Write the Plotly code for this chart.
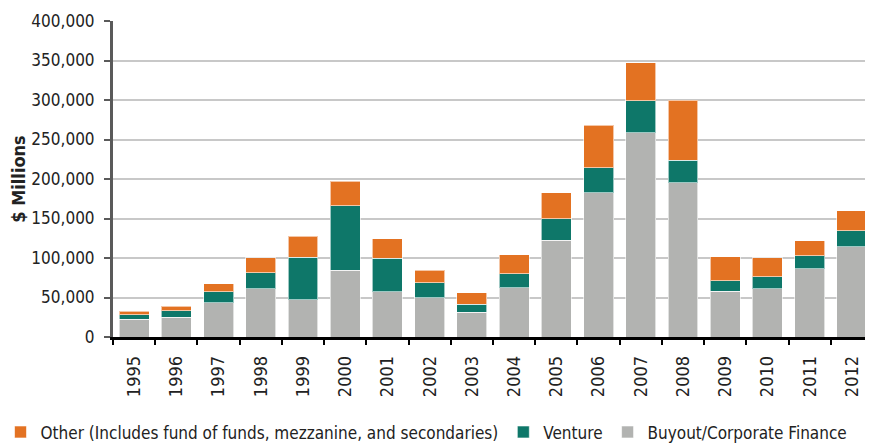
import plotly.graph_objects as go

years = [str(y) for y in range(1995, 2013)]
buyout = [22400, 25300, 43100, 60800, 47300, 84500, 57400, 49400, 31300,
          62100, 122500, 182900, 258500, 195200, 57900, 60800, 86600, 114100]
venture = [5900, 7700, 13900, 20700, 53700, 81500, 42300, 19000, 10100,
           17700, 27500, 31300, 40600, 28300, 13100, 15200, 16000, 20200]
other = [4200, 5900, 10200, 19000, 26600, 31300, 24500, 16100, 14800,
         24100, 32900, 53600, 48100, 76000, 30800, 24100, 19500, 25300]

series_names = ["Buyout/Corporate Finance", "Venture",
                "Other (Includes fund of funds, mezzanine, and secondaries)"]
series_colors = ["#B2B3B1", "#0E7769", "#E37222"]

FONT = "Liberation Sans Narrow, Arial Narrow, DejaVu Sans Condensed, sans-serif"

fig = go.Figure()
for name, vals, col in zip(series_names, [buyout, venture, other], series_colors):
    fig.add_trace(go.Bar(x=years, y=vals, name=name,
                         marker=dict(color=col, line=dict(color="rgba(255,255,255,0.6)", width=1))))

fig.update_layout(
    barmode="stack",
    bargap=0.29,
    width=865, height=437,
    margin=dict(l=105, r=0, t=13, b=108, autoexpand=False),
    paper_bgcolor="white", plot_bgcolor="white",
    font=dict(family=FONT, size=17, color="#222222"),
    showlegend=True,
    legend=dict(orientation="h", traceorder="reversed",
                x=-0.148, xanchor="left", y=-0.302, yanchor="middle",
                font=dict(size=17), itemwidth=30,
                bgcolor="rgba(0,0,0,0)"),
    xaxis=dict(tickangle=-90, showline=True, linecolor="black", linewidth=2.5,
               ticks="outside", ticklen=5, tickwidth=2, tickcolor="black",
               tickson="boundaries", showgrid=False, fixedrange=True,
               automargin=False, ticklabelstandoff=9,
               tickfont=dict(size=18)),
    yaxis=dict(range=[0, 400000], dtick=50000, tickformat=",d",
               showline=True, linecolor="#5A5A5A", linewidth=3,
               ticks="outside", ticklen=6, tickwidth=1.5, tickcolor="#5A5A5A",
               showgrid=True, gridcolor="#C8C8C8", gridwidth=1.5,
               zeroline=False, automargin=False, ticklabelstandoff=6,
               tickfont=dict(size=17),
               title=dict(text="<b>$ Millions</b>", font=dict(size=18), standoff=6)),
)

fig.write_html("out.html")
